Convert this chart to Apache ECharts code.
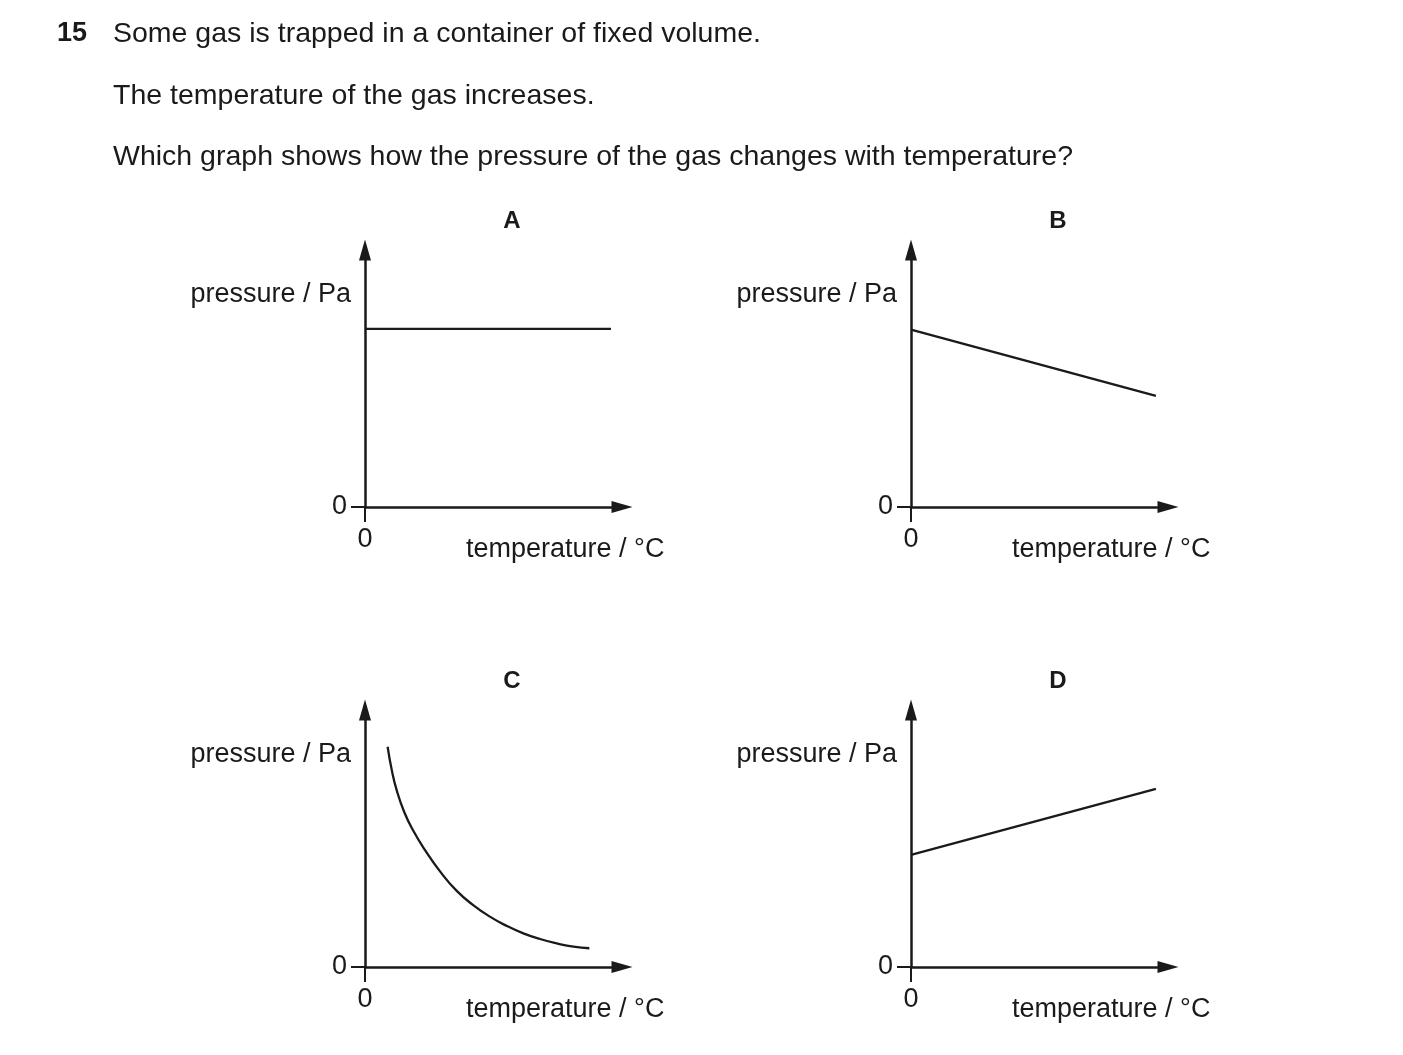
<!DOCTYPE html>
<html>
<head>
<meta charset="utf-8">
<script src="https://cdn.jsdelivr.net/npm/echarts@6/dist/echarts.min.js"></script>
<style>
html,body{margin:0;padding:0;background:#fff;}
#chart{width:1403px;height:1055px;}
</style>
</head>
<body>
<div id="chart"></div>
<script>
// ---- data (axes run 0..100 in arbitrary units) ----
const questionNumber = '15';
const questionLines = [
  'Some gas is trapped in a container of fixed volume.',
  'The temperature of the gas increases.',
  'Which graph shows how the pressure of the gas changes with temperature?'
];
const panelLetters = ['A', 'B', 'C', 'D'];
const yAxisTitle = 'pressure / Pa';
const xAxisTitle = 'temperature / °C';
const tickLabels = [0];

const seriesA = [[0, 69.3], [95.7, 69.3]];
const seriesB = [[0, 69], [95.3, 43.2]];
const seriesC = [
  [8.8, 85.7], [10.4, 76.7], [12.3, 68.9], [15.3, 60.2], [18.8, 53.0],
  [23.3, 45.6], [29.2, 37.2], [35.7, 29.6], [42.1, 24.1],
  [48.6, 19.6], [55.1, 16.0], [61.6, 13.1], [68.1, 10.9], [74.6, 9.2],
  [81.1, 7.9], [87.3, 7.3]
];
const seriesD = [[0, 43.6], [95.3, 69.3]];
const panelData = [seriesA, seriesB, seriesC, seriesD];
const panelSmooth = [false, false, 0.5, false];

// ---- layout ----
const ink = '#1a1a1a';
const font = '"Liberation Sans", Arial, Helvetica, sans-serif';
const gridLefts = [365, 911, 365, 911];
const gridTops = [250, 250, 710, 710];
const gridSize = 257;

const grids = [], xAxes = [], yAxes = [], series = [], texts = [];

const axisLineStyle = {
  show: true, symbol: ['none', 'triangle'], symbolSize: [12, 21], symbolOffset: [0, 0],
  lineStyle: { color: ink, width: 2.5 }
};

panelLetters.forEach(function (letter, i) {
  grids.push({ left: gridLefts[i], top: gridTops[i], width: gridSize, height: gridSize, containLabel: false });
  xAxes.push({
    type: 'value', gridIndex: i, min: 0, max: 100,
    splitLine: { show: false },
    axisLine: axisLineStyle,
    axisTick: { show: true, customValues: tickLabels, length: 15, lineStyle: { color: ink, width: 2 } },
    axisLabel: { show: true, customValues: tickLabels, margin: 19, fontSize: 27, color: ink, fontFamily: font }
  });
  yAxes.push({
    type: 'value', gridIndex: i, min: 0, max: 100,
    splitLine: { show: false },
    axisLine: axisLineStyle,
    axisTick: { show: true, customValues: tickLabels, length: 14, lineStyle: { color: ink, width: 2 } },
    axisLabel: { show: true, customValues: tickLabels, margin: 18, fontSize: 27, color: ink, fontFamily: font, padding: [10, 0, 0, 0] }
  });
  series.push({
    type: 'line', xAxisIndex: i, yAxisIndex: i, data: panelData[i],
    smooth: panelSmooth[i], symbol: 'none', silent: true,
    lineStyle: { color: ink, width: 2.3 }
  });
  // panel letter
  texts.push({
    type: 'text', x: gridLefts[i] + 147, y: gridTops[i] - 29,
    style: { text: letter, font: 'bold 24px ' + font, fill: ink, align: 'center', verticalAlign: 'middle' }
  });
  // axis titles
  texts.push({
    type: 'text', x: gridLefts[i] - 14, y: gridTops[i] + 45,
    style: { text: yAxisTitle, font: '27px ' + font, fill: ink, align: 'right', verticalAlign: 'middle' }
  });
  texts.push({
    type: 'text', x: gridLefts[i] + 101, y: gridTops[i] + gridSize + 43,
    style: { text: xAxisTitle, font: '27px ' + font, fill: ink, align: 'left', verticalAlign: 'middle' }
  });
});

// question text
texts.push({
  type: 'text', x: 57, y: 34,
  style: { text: questionNumber, font: 'bold 27px ' + font, fill: ink, align: 'left', verticalAlign: 'middle' }
});
const lineYs = [34, 96, 157];
questionLines.forEach(function (t, k) {
  texts.push({
    type: 'text', x: 113, y: lineYs[k],
    style: { text: t, font: '28.5px ' + font, fill: ink, align: 'left', verticalAlign: 'middle' }
  });
});

const chart = echarts.init(document.getElementById('chart'), null, { renderer: 'canvas' });
chart.setOption({
  backgroundColor: '#ffffff',
  animation: false,
  grid: grids,
  xAxis: xAxes,
  yAxis: yAxes,
  series: series,
  graphic: { elements: texts }
});
</script>
</body>
</html>
